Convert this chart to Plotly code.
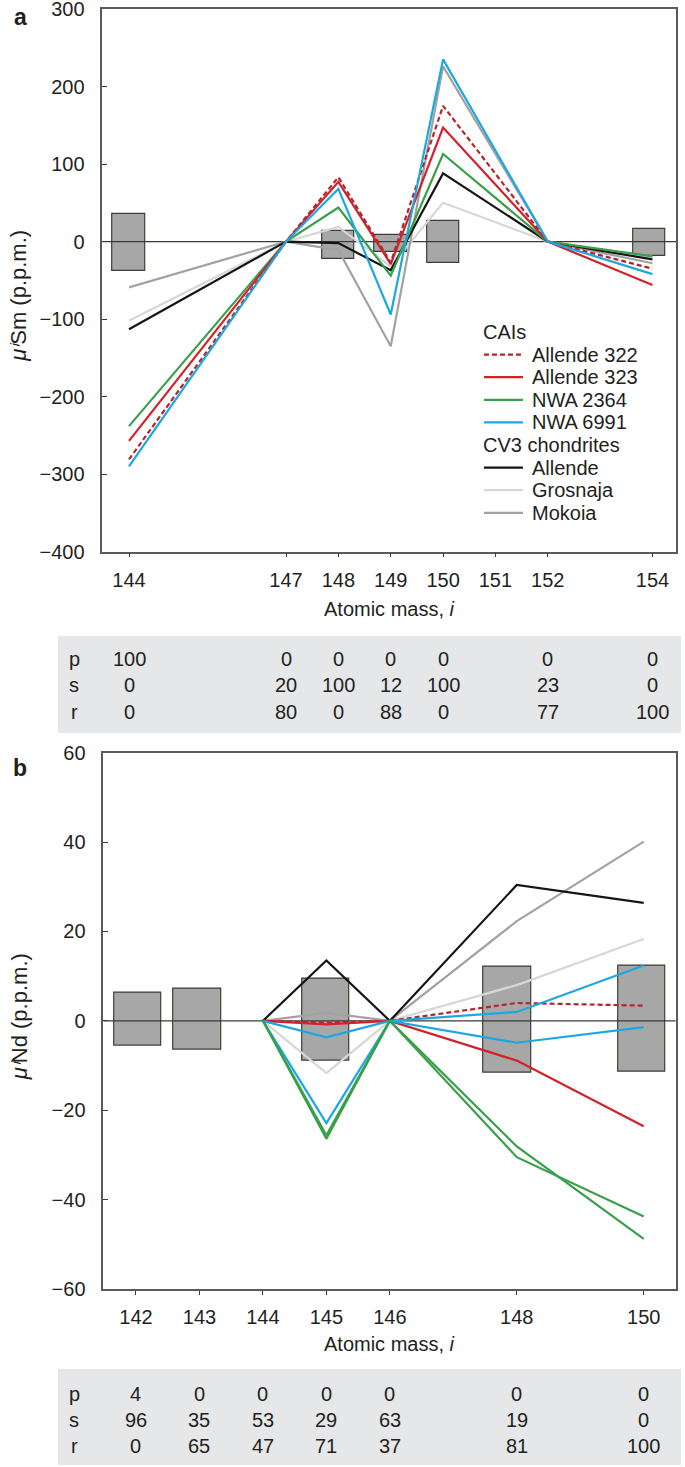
import plotly.graph_objects as go

W, H = 685, 1467
FONT = "Liberation Sans, Arial, Helvetica, sans-serif"
TXT = "#231f20"

# ---------------- Panel a: Sm ----------------
sm_mass = [144, 147, 148, 149, 150, 152, 154]
sm_ticks = [144, 147, 148, 149, 150, 151, 152, 154]
sm_allende322 = [-281, 0, 83, -27, 175, 0, -35]
sm_allende323 = [-257, 0, 77, -29, 147, 0, -56]
sm_nwa2364 = [-238, 0, 44, -44, 113, 0, -19]
sm_nwa6991 = [-290, 0, 68, -94, 235, 0, -42]
sm_allende = [-113, 0, -2, -37, 88, 0, -23]
sm_grosnaja = [-102, 0, 19, -32, 50, 0, -21]
sm_mokoia = [-59, 0, -11, -135, 226, 0, -28]
sm_box_x = [144, 148, 149, 150, 153.94]
sm_box_lo = [-38, -23, -14, -28, -18]
sm_box_hi = [36, 14, 9, 27, 16]
sm_p = [100, 0, 0, 0, 0, 0, 0]
sm_s = [0, 20, 100, 12, 100, 23, 0]
sm_r = [0, 80, 0, 88, 0, 77, 100]

# ---------------- Panel b: Nd ----------------
nd_line_mass = [144, 145, 146, 148, 150]
nd_ticks = [142, 143, 144, 145, 146, 148, 150]
nd_allende322 = [0, -0.4, 0, 4.0, 3.4]
nd_allende323 = [0, -0.8, 0, -8.9, -23.6]
nd_nwa2364_a = [0, -25.6, 0, -28.1, -48.8]
nd_nwa2364_b = [0, -26.4, 0, -30.5, -43.8]
nd_nwa6991_a = [0, -3.7, 0, 2.0, 12.4]
nd_nwa6991_b = [0, -22.9, 0, -4.9, -1.4]
nd_allende = [0, 13.5, 0, 30.4, 26.4]
nd_grosnaja = [0, -11.7, 0, 8.0, 18.3]
nd_mokoia = [0, 1.8, 0, 22.3, 40.1]
nd_box_x = [142.03, 142.97, 144.99, 147.85, 149.97]
nd_box_lo = [-5.5, -6.5, -9.0, -11.5, -11.4]
nd_box_hi = [6.3, 7.2, 9.5, 12.2, 12.4]
nd_p = [4, 0, 0, 0, 0, 0, 0]
nd_s = [96, 35, 53, 29, 63, 19, 0]
nd_r = [0, 65, 47, 71, 37, 81, 100]

# ---------------- styles ----------------
C_RED = "#d2232a"
C_RED_D = "#b8242c"
C_GREEN = "#3a9f4a"
C_BLUE = "#1ba8e0"
C_BLACK = "#151515"
C_GROS = "#d7d7d7"
C_MOK = "#a2a2a2"
LW = 2.2

legend_items = [
    ("CAIs", None, None),
    ("Allende 322", C_RED_D, "5px,3px"),
    ("Allende 323", C_RED, "solid"),
    ("NWA 2364", C_GREEN, "solid"),
    ("NWA 6991", C_BLUE, "solid"),
    ("CV3 chondrites", None, None),
    ("Allende", C_BLACK, "solid"),
    ("Grosnaja", C_GROS, "solid"),
    ("Mokoia", C_MOK, "solid"),
]

def px_x(x):
    return x / W

def px_y(y):
    return 1 - y / H

# layout geometry (pixels)
A_L, A_R, A_T, A_B = 102.3, 676.0, 9.0, 551.7
B_L, B_R, B_T, B_B = 103.3, 675.7, 752.7, 1289.0
A_XR = [143.49, 154.45]
B_XR = [141.485, 150.504]

fig = go.Figure()

def add_panel(xa, ya, box_x, box_lo, box_hi, hw, xr, series):
    fig.add_trace(go.Bar(
        x=box_x, y=[h - l for l, h in zip(box_lo, box_hi)], base=box_lo,
        width=[2 * hw] * len(box_x),
        marker=dict(color="#a7a7a7", line=dict(color="#3d3d33", width=1.2)),
        xaxis=xa, yaxis=ya, showlegend=False, hoverinfo="skip"))
    fig.add_trace(go.Scatter(
        x=xr, y=[0, 0], mode="lines", line=dict(color="#3a3a3a", width=1.2),
        xaxis=xa, yaxis=ya, showlegend=False, hoverinfo="skip"))
    for xs, ys, col, dash in series:
        fig.add_trace(go.Scatter(
            x=xs, y=ys, mode="lines", line=dict(color=col, width=LW, dash=dash),
            xaxis=xa, yaxis=ya, showlegend=False))

add_panel("x", "y", sm_box_x, sm_box_lo, sm_box_hi, 0.31, A_XR, [
    (sm_mass, sm_grosnaja, C_GROS, "solid"),
    (sm_mass, sm_mokoia, C_MOK, "solid"),
    (sm_mass, sm_allende, C_BLACK, "solid"),
    (sm_mass, sm_nwa2364, C_GREEN, "solid"),
    (sm_mass, sm_allende323, C_RED, "solid"),
    (sm_mass, sm_allende322, C_RED_D, "5px,3px"),
    (sm_mass, sm_nwa6991, C_BLUE, "solid"),
])

add_panel("x2", "y2", nd_box_x, nd_box_lo, nd_box_hi, 0.375, B_XR, [
    (nd_line_mass, nd_grosnaja, C_GROS, "solid"),
    (nd_line_mass, nd_mokoia, C_MOK, "solid"),
    (nd_line_mass, nd_allende, C_BLACK, "solid"),
    (nd_line_mass, nd_allende322, C_RED_D, "5px,3px"),
    (nd_line_mass, nd_allende323, C_RED, "solid"),
    (nd_line_mass, nd_nwa6991_a, C_BLUE, "solid"),
    (nd_line_mass, nd_nwa6991_b, C_BLUE, "solid"),
    (nd_line_mass, nd_nwa2364_a, C_GREEN, "solid"),
    (nd_line_mass, nd_nwa2364_b, C_GREEN, "solid"),
])

axis_common = dict(showgrid=False, zeroline=False, showline=True, mirror=True,
                   automargin=False, ticklabeloverflow="allow",
                   linecolor="#5a5a5a", linewidth=1.5, tickcolor="#3a3a3a",
                   tickfont=dict(family=FONT, size=20, color=TXT))

fig.update_layout(
    template="none",
    width=W, height=H, margin=dict(l=0, r=0, t=0, b=0, autoexpand=False),
    paper_bgcolor="white", plot_bgcolor="white", showlegend=False,
    bargap=0,
    xaxis=dict(domain=[px_x(A_L), px_x(A_R)], range=A_XR, anchor="y",
               tickmode="array", tickvals=sm_ticks, ticks="outside", ticklen=4,
               ticklabelstandoff=6, **axis_common),
    yaxis=dict(domain=[px_y(A_B), px_y(A_T)], range=[-400, 300], anchor="x",
               tickmode="linear", tick0=-400, dtick=100, ticks="inside", ticklen=5,
               ticklabelstandoff=12, **axis_common),
    xaxis2=dict(domain=[px_x(B_L), px_x(B_R)], range=B_XR, anchor="y2",
                tickmode="array", tickvals=nd_ticks, ticks="outside", ticklen=4,
                ticklabelstandoff=5, **axis_common),
    yaxis2=dict(domain=[px_y(B_B), px_y(B_T)], range=[-60, 60], anchor="x2",
                tickmode="linear", tick0=-60, dtick=20, ticks="inside", ticklen=5,
                ticklabelstandoff=12, **axis_common),
)

shapes = []
ann = []

def text(x, y, s, size=20, xanchor="center", bold=False, angle=0, xref="paper", yref="paper"):
    ann.append(dict(x=x, y=y, xref=xref, yref=yref, text=s, showarrow=False,
                    xanchor=xanchor, yanchor="middle", textangle=angle,
                    font=dict(family=FONT, size=size, color=TXT,
                              weight="bold" if bold else "normal")))

# panel letters
text(px_x(20), px_y(17), "a", size=23, bold=True)
text(px_x(20), px_y(768), "b", size=23, bold=True)

# axis titles
text(px_x((A_L + A_R) / 2), px_y(609), "Atomic mass, <i>i</i>")
text(px_x((B_L + B_R) / 2), px_y(1344), "Atomic mass, <i>i</i>")
text(px_x(19), -70, "<i>μⁱ</i>Sm (p.p.m.)", size=22, angle=-90, yref="y")
text(px_x(19), 0.8, "<i>μⁱ</i>Nd (p.p.m.)", size=22, angle=-90, yref="y2")

# legend (panel a)
ly = 332.0
for name, col, dash in legend_items:
    if col is None:
        text(px_x(481), px_y(ly), name, xanchor="left")
    else:
        shapes.append(dict(type="line", xref="paper", yref="paper",
                           x0=px_x(484), x1=px_x(523), y0=px_y(ly), y1=px_y(ly),
                           line=dict(color=col, width=LW, dash=dash)))
        text(px_x(530), px_y(ly), name, xanchor="left")
    ly += 22.6

# tables
def table(top, bottom, rows_y, mass, p, s, r, xref):
    shapes.append(dict(type="rect", xref="paper", yref="paper", layer="below",
                       x0=px_x(58), x1=px_x(681), y0=px_y(bottom), y1=px_y(top),
                       fillcolor="#e6e7e8", line=dict(width=0)))
    for lab, vals, yy in zip(["p", "s", "r"], [p, s, r], rows_y):
        text(px_x(74), px_y(yy), lab)
        for m, v in zip(mass, vals):
            text(m, px_y(yy), str(v), xref=xref)

table(636, 733, [658.5, 685, 711.5], sm_mass, sm_p, sm_s, sm_r, "x")
table(1369, 1465, [1393.5, 1420, 1446], nd_ticks, nd_p, nd_s, nd_r, "x2")

fig.update_layout(shapes=shapes, annotations=ann)
fig.write_html("out.html", config={"displayModeBar": False},
               post_script="document.body.style.margin='0';document.body.style.overflow='hidden';")
